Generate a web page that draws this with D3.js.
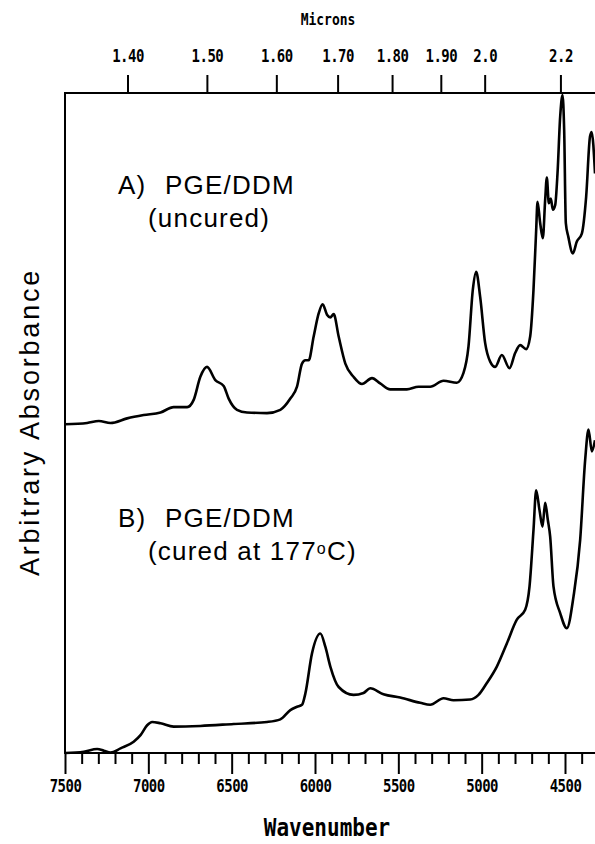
<!DOCTYPE html>
<html>
<head>
<meta charset="utf-8">
<script src="https://cdn.jsdelivr.net/npm/d3@7"></script>
<style>
  html, body { margin: 0; padding: 0; background: #fff; }
  svg { display: block; }
</style>
</head>
<body>
<svg id="chart" width="595" height="844"></svg>
<script>
// Near-IR spectra of PGE/DDM, uncured (A) and cured at 177 °C (B).
// Wavenumbers in cm^-1, absorbance in arbitrary units (0-100 over the frame).
const wavenumberA = [7500, 7367, 7297, 7227, 7127, 7028, 6927, 6848, 6767, 6728,
  6688, 6648, 6598, 6548, 6518, 6468, 6408, 6288, 6208, 6148,
  6108, 6078, 6058, 6038, 6008, 5978, 5954, 5928, 5908, 5888,
  5858, 5818, 5769, 5718, 5658, 5609, 5549, 5449, 5379, 5309,
  5229, 5149, 5109, 5079, 5053, 5033, 5009, 4979, 4949, 4919,
  4879, 4833, 4799, 4769, 4733, 4709, 4689, 4673, 4665, 4649,
  4633, 4619, 4609, 4597, 4585, 4573, 4559, 4545, 4529, 4515,
  4505, 4495, 4480, 4453, 4429, 4399, 4373, 4350, 4340, 4320];
const absorbanceA = [49.8, 50.0, 50.3, 50.0, 50.7, 51.2, 51.6, 52.4, 52.4, 53.5,
  57.0, 58.5, 56.5, 55.6, 53.7, 52.0, 51.6, 51.5, 52.0, 53.7,
  55.5, 59.0, 59.5, 59.5, 63.1, 66.6, 68.0, 66.4, 66.0, 66.5,
  63.1, 59.0, 57.0, 55.9, 56.8, 56.0, 55.1, 55.1, 55.5, 55.5,
  56.4, 56.1, 57.6, 61.6, 70.2, 72.9, 69.1, 62.1, 59.3, 58.5,
  60.3, 58.3, 60.6, 61.8, 61.2, 63.1, 70.2, 79.2, 83.5, 80.3,
  78.0, 83.8, 87.2, 83.3, 84.0, 82.3, 83.0, 87.8, 96.4, 99.7,
  94.4, 80.3, 78.2, 75.7, 77.5, 78.7, 84.3, 93.4, 94.1, 87.8];

const wavenumberB = [7500, 7387, 7307, 7267, 7227, 7167, 7088, 7047, 7007, 6977,
  6927, 6848, 6688, 6488, 6288, 6208, 6148, 6108, 6078, 6058,
  6018, 5968, 5938, 5908, 5858, 5769, 5709, 5669, 5589, 5489,
  5369, 5309, 5229, 5169, 5069, 5019, 4969, 4909, 4849, 4789,
  4739, 4713, 4689, 4673, 4653, 4635, 4619, 4603, 4589, 4569,
  4529, 4489, 4449, 4409, 4379, 4359, 4339, 4320];
const absorbanceB = [0.0, 0.2, 0.6, 0.35, 0.05, 0.7, 1.7, 2.7, 4.2, 4.7,
  4.5, 4.0, 4.1, 4.4, 4.7, 5.1, 6.5, 7.0, 7.3, 9.0,
  15.1, 18.1, 16.1, 13.1, 10.0, 8.8, 9.1, 9.8, 8.9, 8.4,
  7.6, 7.3, 8.3, 8.0, 8.1, 8.8, 10.6, 13.1, 16.6, 20.2,
  21.7, 25.2, 33.8, 39.8, 36.8, 34.3, 37.9, 35.3, 32.8, 25.2,
  21.2, 18.9, 23.7, 32.3, 44.4, 49.0, 45.7, 47.4];

const wavenumberTicks = [7500, 7000, 6500, 6000, 5500, 5000, 4500];
const wavenumberMinorTicks = [7400, 7300, 7200, 7100, 6900, 6800, 6700, 6600,
  6400, 6300, 6200, 6100, 5900, 5800, 5700, 5600, 5400, 5300, 5200, 5100,
  4900, 4800, 4700, 4600, 4400];
const micronTicks = [1.40, 1.50, 1.60, 1.70, 1.80, 1.90, 2.0, 2.2];
const micronLabels = ["1.40", "1.50", "1.60", "1.70", "1.80", "1.90", "2.0", "2.2"];

const sampleTitles = ["A)", "B)"];
const sampleNames = ["PGE/DDM", "PGE/DDM"];
const sampleStates = ["(uncured)", "(cured at 177"];

const svg = d3.select("#chart");
const plotLeft = 65, plotRight = 595, plotTop = 93, plotBottom = 753;

const x = d3.scaleLinear().domain([7500, 4320]).range([plotLeft, plotRight]);
const y = d3.scaleLinear().domain([0, 100]).range([plotBottom, plotTop]);

const plotterFont = "'DejaVu Sans Mono', monospace";
const textFont = "'Liberation Sans', Arial, Helvetica, sans-serif";

svg.append("clipPath").attr("id", "plot-clip")
  .append("rect").attr("x", plotLeft).attr("y", plotTop - 2)
  .attr("width", plotRight - plotLeft).attr("height", plotBottom - plotTop + 4);

// frame: left, top and bottom sides
svg.append("path")
  .attr("d", `M${plotRight},${plotTop}H${plotLeft}V${plotBottom}H${plotRight}`)
  .attr("fill", "none").attr("stroke", "#000").attr("stroke-width", 2);

// bottom axis: wavenumber, majors every 500, minors every 100
const axisMinor = d3.axisBottom(x).tickValues(wavenumberMinorTicks)
  .tickSize(11).tickFormat("");
const gMinor = svg.append("g").attr("transform", `translate(0,${plotBottom})`).call(axisMinor);
gMinor.select(".domain").remove();
gMinor.selectAll("line").attr("stroke", "#000").attr("stroke-width", 2);

const axisMajor = d3.axisBottom(x).tickValues(wavenumberTicks)
  .tickSize(21).tickFormat(d3.format("d"));
const gMajor = svg.append("g").attr("transform", `translate(0,${plotBottom})`).call(axisMajor);
gMajor.select(".domain").remove();
gMajor.selectAll("line").attr("stroke", "#000").attr("stroke-width", 2);
gMajor.selectAll("text")
  .attr("y", null).attr("dy", null)
  .attr("transform", "translate(0,39) scale(1,1.2)")
  .attr("font-family", plotterFont).attr("font-weight", "bold")
  .attr("font-size", 14).attr("fill", "#000")
  .style("letter-spacing", "-0.5px");

// top axis: wavelength in microns, placed at 10000/µm
const micronLabelOf = new Map(micronTicks.map((m, i) => [10000 / m, micronLabels[i]]));
const axisMicrons = d3.axisTop(x).tickValues(micronTicks.map(m => 10000 / m))
  .tickSize(18).tickFormat(d => micronLabelOf.get(d));
const gTop = svg.append("g").attr("transform", `translate(3,${plotTop})`).call(axisMicrons);
gTop.select(".domain").remove();
gTop.selectAll("line").attr("stroke", "#000").attr("stroke-width", 2);
gTop.selectAll("text")
  .attr("y", null).attr("dy", null)
  .attr("transform", "translate(0,-31) scale(1,1.2)")
  .attr("font-family", plotterFont).attr("font-weight", "bold")
  .attr("font-size", 14).attr("fill", "#000")
  .style("letter-spacing", "-0.5px");

svg.append("text")
  .attr("transform", "translate(328,25) scale(1,1.2)")
  .attr("text-anchor", "middle")
  .attr("font-family", plotterFont).attr("font-weight", "bold")
  .attr("font-size", 13).text("Microns");

svg.append("text")
  .attr("transform", "translate(327,836) scale(1,1.17)")
  .attr("text-anchor", "middle")
  .attr("font-family", plotterFont).attr("font-weight", "bold")
  .attr("font-size", 21).text("Wavenumber");

svg.append("text")
  .attr("transform", "translate(39,422) rotate(-90)")
  .attr("text-anchor", "middle")
  .attr("font-family", textFont).attr("font-size", 27)
  .style("letter-spacing", "2.8px")
  .text("Arbitrary Absorbance");

// spectra
const line = d3.line()
  .x(d => x(d[0])).y(d => y(d[1]))
  .curve(d3.curveMonotoneX);
const spectra = [
  d3.zip(wavenumberA, absorbanceA),
  d3.zip(wavenumberB, absorbanceB)
];
svg.append("g").attr("clip-path", "url(#plot-clip)")
  .selectAll("path").data(spectra).join("path")
  .attr("d", line)
  .attr("fill", "none").attr("stroke", "#000")
  .attr("stroke-width", 2.6).attr("stroke-linejoin", "round");

// sample labels
const labelRows = [194, 527];
labelRows.forEach((row, i) => {
  const g = svg.append("g")
    .attr("font-family", textFont).attr("font-size", 26).attr("fill", "#000")
    .style("letter-spacing", "1.2px");
  g.append("text").attr("x", 118).attr("y", row).text(sampleTitles[i]);
  g.append("text").attr("x", 165).attr("y", row).text(sampleNames[i]);
  const st = g.append("text").attr("x", 148).attr("y", row + 33).text(sampleStates[i]);
  if (i === 1) {
    st.append("tspan").attr("font-size", 16).attr("dy", -6).text("o");
    st.append("tspan").attr("dy", 6).text("C)");
  }
});
</script>
</body>
</html>
